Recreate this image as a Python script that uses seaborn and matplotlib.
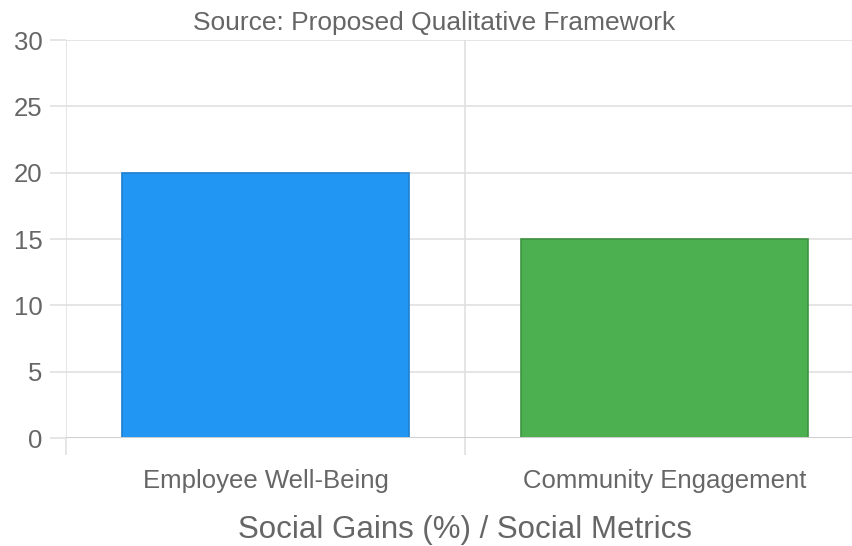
import matplotlib
matplotlib.use("Agg")
import matplotlib.pyplot as plt
import seaborn as sns
import pandas as pd

# Social metrics and their gains (%)
categories = ["Employee Well-Being", "Community Engagement"]
gains = [20, 15]
fill_colors = ["#2196F3", "#4CAF50"]
edge_colors = ["#1E7FD0", "#3E9442"]
y_ticks = [0, 5, 10, 15, 20, 25, 30]

df = pd.DataFrame({"metric": categories, "gain": gains})

sns.set_theme(style="white")
plt.rcParams["font.family"] = ["Liberation Sans", "DejaVu Sans"]

fig = plt.figure(figsize=(8.53, 5.46), dpi=100)
ax = fig.add_axes([66 / 853, 1 - 438 / 546, 798 / 853, 398 / 546])

sns.barplot(data=df, x="metric", y="gain", hue="metric", palette=fill_colors,
            saturation=1, width=0.72, legend=False, ax=ax, linewidth=1.2)
for patch, ec in zip(ax.patches, edge_colors):
    patch.set_edgecolor(ec)
    patch.set_zorder(3)

grid_c = "#e0e0e0"
ax.set_xlim(-0.5, 1.5)
ax.set_ylim(0, 30)
ax.set_yticks(y_ticks)
ax.set_xticks([-0.5, 0.5, 1.5], minor=True)
ax.grid(axis="y", which="major", color=grid_c, linewidth=1.2, zorder=0)
ax.grid(axis="x", which="minor", color=grid_c, linewidth=1.2, zorder=0)
ax.set_axisbelow(True)
for s in ax.spines.values():
    s.set_visible(False)
ax.axhline(0, color="#cfcfcf", linewidth=1.4, zorder=4)

ax.tick_params(axis="y", which="major", length=11.5, width=1.2, color=grid_c,
               pad=5.5, labelsize=18.5, labelcolor="#666666", left=True)
ax.tick_params(axis="x", which="major", length=0, pad=22.5,
               labelsize=18.5, labelcolor="#666666")
ax.tick_params(axis="x", which="minor", length=12, width=1.2, color=grid_c,
               bottom=True)

ax.set_xlabel("Social Gains (%) / Social Metrics", fontsize=22.5,
              color="#666666", labelpad=15.5)
ax.set_ylabel("")

fig.text(434.5 / 853, 1 - 23 / 546, "Source: Proposed Qualitative Framework",
         ha="center", va="center", fontsize=19, color="#666666")

fig.savefig("out.png", dpi=100)
